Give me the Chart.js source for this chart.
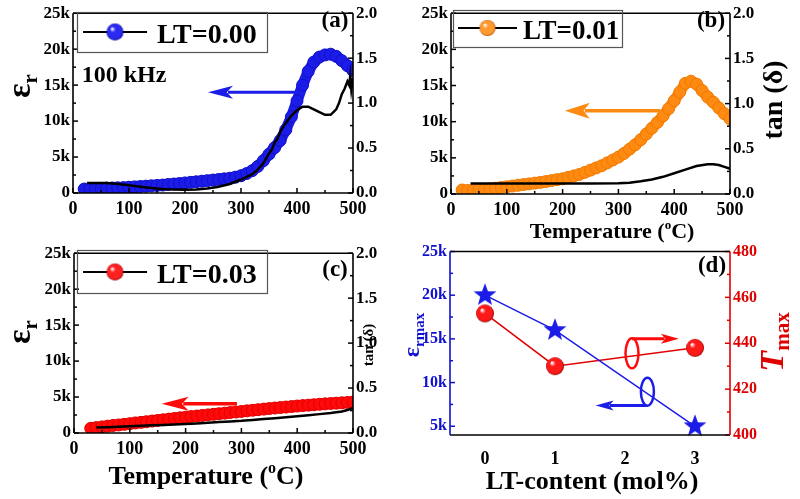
<!DOCTYPE html>
<html><head><meta charset="utf-8">
<script src="https://cdn.jsdelivr.net/npm/chart.js@4.4.1/dist/chart.umd.min.js"></script>
<style>
html,body{margin:0;padding:0;background:#fff;}
#wrap{position:relative;width:800px;height:499px;overflow:hidden;background:#fff;}
canvas{position:absolute;}
</style></head><body>
<div id="wrap">
<canvas id="ca" style="left:0px;top:0px;width:400px;height:230px" width="400" height="230"></canvas>
<canvas id="cb" style="left:400px;top:0px;width:400px;height:250px" width="400" height="250"></canvas>
<canvas id="cc" style="left:0px;top:240px;width:400px;height:259px" width="400" height="259"></canvas>
<canvas id="cd" style="left:400px;top:238px;width:400px;height:261px" width="400" height="261"></canvas>
</div>
<script>
// ---------------- DATA ----------------
const tempA = [20,30,40,50,60,70,80,90,100,110,120,130,140,150,160,170,180,190,200,210,220,230,240,250,260,270,280,290,300,310,320,330,340,350,360,370,380,390,400,410,420,430,440,450,460,470,480,490,500];
const epsA  = [550,600,620,650,680,700,720,750,800,850,900,950,1000,1050,1100,1180,1250,1320,1400,1480,1560,1640,1720,1800,1880,1970,2050,2200,2400,2700,3100,3700,4500,5400,6300,7300,8800,10600,12800,15000,16900,18200,18900,19200,19300,19000,18400,17700,17000];
const tanTempA = [25,40,60,80,100,120,140,160,180,200,220,240,260,280,300,310,320,330,340,350,355,360,365,370,380,390,400,410,420,430,440,450,460,465,470,475,480,485,490,493,495,497,500];
const tanA     = [0.11,0.11,0.11,0.10,0.085,0.07,0.055,0.045,0.04,0.035,0.04,0.05,0.07,0.10,0.15,0.18,0.21,0.26,0.33,0.44,0.48,0.56,0.60,0.68,0.78,0.86,0.92,0.96,0.96,0.93,0.90,0.87,0.87,0.90,0.93,1.00,1.10,1.16,1.24,1.20,1.30,1.15,1.28];

const tempB = [20,30,40,50,60,70,80,90,100,110,120,130,140,150,160,170,180,190,200,210,220,230,240,250,260,270,280,290,300,310,320,330,340,350,360,370,380,390,400,410,420,430,440,450,460,470,480,490,500];
const epsB  = [550,500,500,520,600,700,800,900,1000,1100,1200,1300,1400,1500,1600,1720,1850,1980,2100,2300,2500,2700,3000,3300,3600,3900,4300,4700,5100,5600,6200,6800,7500,8300,9100,9900,10800,11800,12900,14100,15300,15600,15200,14300,13400,12700,11900,11100,10400];
const tanTempB = [35,60,100,150,200,250,300,320,340,360,380,400,420,440,460,470,480,490,500];
const tanB     = [0.115,0.115,0.115,0.115,0.115,0.115,0.12,0.125,0.14,0.16,0.19,0.23,0.27,0.31,0.33,0.33,0.32,0.30,0.28];

const tempC = [30,40,50,60,70,80,90,100,110,120,130,140,150,160,170,180,190,200,210,220,230,240,250,260,270,280,290,300,310,320,330,340,350,360,370,380,390,400,410,420,430,440,450,460,470,480,490,500];
const epsC  = [650,750,850,950,1050,1120,1200,1300,1400,1480,1570,1660,1750,1840,1930,2020,2110,2200,2280,2360,2440,2520,2600,2680,2760,2840,2920,3000,3080,3160,3240,3320,3400,3470,3540,3610,3680,3750,3810,3870,3930,3990,4050,4100,4150,4200,4250,4300];
const tanTempC = [40,60,80,100,120,140,160,180,200,220,240,260,280,300,320,340,360,380,400,420,440,460,480,490,500];
const tanC     = [0.06,0.065,0.07,0.075,0.08,0.085,0.09,0.095,0.10,0.107,0.114,0.121,0.128,0.135,0.145,0.155,0.165,0.175,0.185,0.197,0.21,0.222,0.24,0.255,0.28];

const ltContent = [0, 1, 3];
const epsMax    = [20000, 16000, 5000];
const tMax      = [453, 430, 438];

const tempTicks = [0,100,200,300,400,500];
const epsTicks  = [0,5000,10000,15000,20000,25000];
const tanTicks  = [0,0.5,1.0,1.5,2.0];
const ltTicks   = [0,1,2,3];
const epsMaxTicks = [5000,10000,15000,20000,25000];
const tMaxTicks = [400,420,440,460,480];
const legendLabels = ['LT=0.00','LT=0.01','LT=0.03'];

// ---------------- STYLE ----------------
const FONT = '"Liberation Serif","Times New Roman",serif';
const BLUE = '#1c1ce8', ORANGE = '#ff8a12', RED = '#ff0a0a';

function pts(xs, ys){ return xs.map((x,i)=>({x:x, y:ys[i]})); }
function kfmt(v){ return v===0 ? '0' : (v/1000)+'k'; }

function sphere(color, dark, r){
  const s = Math.ceil(r*2+2); const c = document.createElement('canvas'); c.width=c.height=s;
  const g = c.getContext('2d'); const m = s/2;
  const grd = g.createRadialGradient(m-r*0.35, m-r*0.4, r*0.05, m, m, r);
  grd.addColorStop(0,'#ffffff'); grd.addColorStop(0.3,color); grd.addColorStop(0.85,color); grd.addColorStop(1,dark);
  g.fillStyle=grd; g.beginPath(); g.arc(m,m,r,0,Math.PI*2); g.fill();
  return c;
}
function starImg(color, R, r){
  const s = Math.ceil(R*2+2); const c = document.createElement('canvas'); c.width=c.height=s;
  const g = c.getContext('2d'); const m = s/2;
  g.beginPath();
  for(let i=0;i<10;i++){ const a=-Math.PI/2+i*Math.PI/5; const rr=(i%2===0)?R:r; g.lineTo(m+rr*Math.cos(a), m+rr*Math.sin(a)); }
  g.closePath(); g.fillStyle=color; g.fill(); return c;
}

function setFont(ctx, size, italic){ ctx.font = (italic?'italic ':'')+'bold '+size+'px '+FONT; }

function drawParts(ctx, parts, color){
  let w=0; parts.forEach(p=>{ setFont(ctx,p.size,p.italic); p.w=ctx.measureText(p.t).width; w+=p.w; });
  let x=-w/2; ctx.fillStyle=color; ctx.textBaseline='alphabetic'; ctx.textAlign='left';
  parts.forEach(p=>{ setFont(ctx,p.size,p.italic); ctx.fillText(p.t, x, p.dy||0); x+=p.w; });
}
function textAt(ctx, parts, cx, cy, color, rot){
  ctx.save(); ctx.translate(cx, cy); if(rot) ctx.rotate(rot); drawParts(ctx, parts, color); ctx.restore();
}
function arrow(ctx, x1, x2, y, color, lw, hl, hh){
  ctx.save(); ctx.strokeStyle=color; ctx.fillStyle=color; ctx.lineWidth=lw;
  const dir = x2 > x1 ? 1 : -1;
  ctx.beginPath(); ctx.moveTo(x1,y); ctx.lineTo(x2 - dir*hl*0.8, y); ctx.stroke();
  ctx.beginPath(); ctx.moveTo(x2,y); ctx.lineTo(x2-dir*hl, y-hh); ctx.lineTo(x2-dir*hl*0.75, y); ctx.lineTo(x2-dir*hl, y+hh); ctx.closePath(); ctx.fill();
  ctx.restore();
}

function makeDecor(cfg){
  return {
    id: 'decor_'+cfg.name,
    afterDatasetsDraw(chart){
      const ctx = chart.ctx; const a = chart.chartArea; const ox=cfg.ox, oy=cfg.oy;
      ctx.save();
      const drawTicks = (scale, vals, minor, color) => {
        ctx.strokeStyle=color; ctx.lineWidth=1.5;
        const dr = (v, len) => {
          const p = scale.getPixelForValue(v);
          ctx.beginPath();
          if(scale.id==='x'){ ctx.moveTo(p,a.bottom); ctx.lineTo(p,a.bottom-len); }
          else if(scale.position==='left'){ ctx.moveTo(a.left,p); ctx.lineTo(a.left+len,p); }
          else { ctx.moveTo(a.right,p); ctx.lineTo(a.right-len,p); }
          ctx.stroke();
        };
        vals.forEach(v=>dr(v,5));
        minor.forEach(v=>dr(v,3));
      };
      cfg.ticks.forEach(t=>drawTicks(chart.scales[t.id], t.major, t.minor, t.color));
      ctx.lineWidth=1.6;
      const line=(x1,y1,x2,y2,c)=>{ctx.strokeStyle=c;ctx.beginPath();ctx.moveTo(x1,y1);ctx.lineTo(x2,y2);ctx.stroke();};
      line(a.left,a.top,a.right,a.top,'#000');
      line(a.left,a.bottom,a.right,a.bottom,'#000');
      line(a.left,a.top,a.left,a.bottom,cfg.leftColor||'#000');
      line(a.right,a.top,a.right,a.bottom,cfg.rightColor||'#000');
      if(cfg.legend){
        const L=cfg.legend;
        ctx.strokeStyle='#555'; ctx.lineWidth=1.2; ctx.strokeRect(L.box[0]-ox+0.5, L.box[1]-oy+0.5, L.box[2], L.box[3]);
        ctx.strokeStyle='#000'; ctx.lineWidth=2; ctx.beginPath(); ctx.moveTo(L.line[0]-ox, L.line[2]-oy); ctx.lineTo(L.line[1]-ox, L.line[2]-oy); ctx.stroke();
        const img = sphere(L.color, L.dark, L.r);
        ctx.drawImage(img, (L.line[0]+L.line[1])/2-ox-img.width/2, L.line[2]-oy-img.height/2);
        setFont(ctx, L.size); ctx.fillStyle='#000'; ctx.textAlign='left'; ctx.textBaseline='alphabetic';
        ctx.fillText(L.label, L.text[0]-ox, L.text[1]-oy);
      }
      (cfg.arrows||[]).forEach(ar=>{
        const xs=chart.scales.x, ys=chart.scales[ar.axis];
        arrow(ctx, xs.getPixelForValue(ar.x1), xs.getPixelForValue(ar.x2), ys.getPixelForValue(ar.y), ar.color, ar.lw, ar.hl, ar.hh);
      });
      (cfg.ellipses||[]).forEach(el=>{
        const xs=chart.scales.x, ys=chart.scales[el.axis];
        ctx.strokeStyle=el.color; ctx.lineWidth=2.5; ctx.beginPath();
        ctx.ellipse(xs.getPixelForValue(el.x), ys.getPixelForValue(el.y), el.rx, el.ry, 0, 0, Math.PI*2); ctx.stroke();
      });
      (cfg.texts||[]).forEach(t=>{
        textAt(ctx, t.parts, t.x-ox, t.y-oy, t.color||'#000', t.rot||0);
      });
      ctx.restore();
    }
  };
}

function tempScales(leftW, rightW, bottomH){
  return {
    x: { type:'linear', min:0, max:500, afterBuildTicks:s=>{s.ticks=tempTicks.map(v=>({value:v}));},
         afterFit:s=>{s.height=bottomH;},
         grid:{display:false, drawTicks:false}, border:{display:false},
         ticks:{color:'#000', padding:6, maxRotation:0, font:{family:FONT, weight:'bold', size:18}} },
    y: { type:'linear', position:'left', min:0, max:25000, afterBuildTicks:s=>{s.ticks=epsTicks.map(v=>({value:v}));},
         afterFit:s=>{s.width=leftW;},
         grid:{display:false, drawTicks:false}, border:{display:false},
         ticks:{color:'#000', padding:3, callback:kfmt, font:{family:FONT, weight:'bold', size:17}} },
    y2:{ type:'linear', position:'right', min:0, max:2, afterBuildTicks:s=>{s.ticks=tanTicks.map(v=>({value:v}));},
         afterFit:s=>{s.width=rightW;},
         grid:{display:false, drawTicks:false}, border:{display:false},
         ticks:{color:'#000', padding:3, callback:v=>v.toFixed(1), font:{family:FONT, weight:'bold', size:17}} }
  };
}
const tempTickDefs = [
  {id:'x', major:tempTicks, minor:[50,150,250,350,450], color:'#000'},
  {id:'y', major:epsTicks, minor:[2500,7500,12500,17500,22500], color:'#000'},
  {id:'y2', major:tanTicks, minor:[0.25,0.75,1.25,1.75], color:'#000'}
];

function bandDatasets(temp, eps, tt, tan, color, edge){
  return [
    { data: pts(tt, tan), yAxisID:'y2', showLine:true, borderColor:'#000', borderWidth:2.5, pointRadius:0, order:0, clip:0, tension:0 },
    { data: pts(temp, eps), yAxisID:'y', showLine:true, borderColor:color, borderWidth:11, borderJoinStyle:'round', borderCapStyle:'round',
      pointRadius:6, pointBackgroundColor:color, pointBorderColor:edge, pointBorderWidth:1, order:1, clip:0, tension:0 }
  ];
}

function baseOpts(scales, topPad){
  return { responsive:false, animation:false, devicePixelRatio:1,
    layout:{padding:{top:topPad,left:0,right:0,bottom:0}},
    plugins:{legend:{display:false}, tooltip:{enabled:false}},
    scales: scales };
}

const epsParts = (s)=>[{t:'ε',size:s},{t:'r',size:Math.round(s*0.62),dy:Math.round(s*0.22)}];
const tempTitle = (s)=>[{t:'Temperature (',size:s},{t:'o',size:Math.round(s*0.6),dy:-Math.round(s*0.42)},{t:'C)',size:s}];

// Panel (a)
new Chart(document.getElementById('ca'), {
  type:'scatter',
  data:{datasets: bandDatasets(tempA, epsA, tanTempA, tanA, BLUE, '#1010c8')},
  options: baseOpts(tempScales(73, 47, 37), 10),
  plugins:[makeDecor({name:'a', ox:0, oy:0, ticks:tempTickDefs,
    legend:{box:[77,12,190,40], line:[83,147,32], r:8.5, color:'#2a2af0', dark:'#000080', label:legendLabels[0], size:28, text:[157,43]},
    arrows:[{x1:405, x2:241, y:14000, axis:'y', color:BLUE, lw:3, hl:25, hh:6.5}],
    texts:[
      {parts:[{t:'(a)',size:23}], x:335, y:27},
      {parts:[{t:'100 kHz',size:24}], x:124, y:82},
      {parts:epsParts(34), x:30, y:86, rot:-Math.PI/2}
    ]})]
});

// Panel (b)
new Chart(document.getElementById('cb'), {
  type:'scatter',
  data:{datasets: bandDatasets(tempB, epsB, tanTempB, tanB, ORANGE, '#f07a00')},
  options: baseOpts(tempScales(51, 70, 56), 10),
  plugins:[makeDecor({name:'b', ox:400, oy:0, ticks:tempTickDefs,
    legend:{box:[453,10,169,37], line:[458,517,28], r:8, color:'#ff9a30', dark:'#b05000', label:legendLabels[1], size:27, text:[523,39]},
    arrows:[{x1:375, x2:204, y:11500, axis:'y', color:ORANGE, lw:3.5, hl:25, hh:8}],
    texts:[
      {parts:[{t:'(b)',size:23}], x:711, y:27},
      {parts:[{t:'tan (δ)',size:28}], x:782, y:100, rot:-Math.PI/2},
      {parts:tempTitle(22), x:612, y:238}
    ]})]
});

// Panel (c)
new Chart(document.getElementById('cc'), {
  type:'scatter',
  data:{datasets: bandDatasets(tempC, epsC, tanTempC, tanC, RED, '#e00000')},
  options: baseOpts(tempScales(74, 47, 66), 10),
  plugins:[makeDecor({name:'c', ox:0, oy:240, ticks:tempTickDefs,
    legend:{box:[77,250,190,43], line:[83,147,272], r:8.5, color:'#ff2020', dark:'#900000', label:legendLabels[2], size:28, text:[157,283]},
    arrows:[{x1:292, x2:157, y:4060, axis:'y', color:RED, lw:3.5, hl:27, hh:7}],
    texts:[
      {parts:[{t:'(c)',size:23}], x:335, y:276},
      {parts:epsParts(34), x:30, y:332, rot:-Math.PI/2},
      {parts:[{t:'tan (δ)',size:15}], x:373, y:345, rot:-Math.PI/2},
      {parts:tempTitle(26), x:206, y:484}
    ]})]
});

// Panel (d)
const starBlue = starImg(BLUE, 12, 5);
const sphereRed = sphere('#ff1a1a', '#8a0000', 9);
new Chart(document.getElementById('cd'), {
  type:'scatter',
  data:{datasets:[
    { data: pts(ltContent, epsMax), yAxisID:'y', showLine:true, borderColor:BLUE, borderWidth:1.5, pointStyle:starBlue, pointRadius:12, order:0, clip:false, tension:0 },
    { data: pts(ltContent, tMax), yAxisID:'y2', showLine:true, borderColor:'#e00000', borderWidth:1.5, pointStyle:sphereRed, pointRadius:9, order:1, clip:false, tension:0 }
  ]},
  options: baseOpts({
    x: { type:'linear', min:-0.5, max:3.5, afterBuildTicks:s=>{s.ticks=ltTicks.map(v=>({value:v}));},
         afterFit:s=>{s.height=64;},
         grid:{display:false, drawTicks:false}, border:{display:false},
         ticks:{color:'#000', padding:14, maxRotation:0, font:{family:FONT, weight:'bold', size:18}} },
    y: { type:'linear', position:'left', min:4000, max:25000, afterBuildTicks:s=>{s.ticks=epsMaxTicks.map(v=>({value:v}));},
         afterFit:s=>{s.width=50;},
         grid:{display:false, drawTicks:false}, border:{display:false},
         ticks:{color:'#1010d0', padding:3, callback:kfmt, font:{family:FONT, weight:'bold', size:16}} },
    y2:{ type:'linear', position:'right', min:400, max:480, afterBuildTicks:s=>{s.ticks=tMaxTicks.map(v=>({value:v}));},
         afterFit:s=>{s.width=70;},
         grid:{display:false, drawTicks:false}, border:{display:false},
         ticks:{color:'#e00000', padding:3, font:{family:FONT, weight:'bold', size:16}} }
  }, 10),
  plugins:[makeDecor({name:'d', ox:400, oy:238, leftColor:'#1010d0', rightColor:'#e00000',
    ticks:[
      {id:'x', major:[], minor:[], color:'#000'},
      {id:'y', major:epsMaxTicks, minor:[7500,12500,17500,22500], color:'#1010d0'},
      {id:'y2', major:tMaxTicks, minor:[410,430,450,470], color:'#e00000'}
    ],
    arrows:[
      {x1:2.1, x2:2.77, y:442, axis:'y2', color:RED, lw:3, hl:18, hh:5},
      {x1:2.31, x2:1.58, y:7370, axis:'y', color:BLUE, lw:3, hl:18, hh:5}
    ],
    ellipses:[
      {x:2.1, y:435.6, axis:'y2', rx:6.5, ry:15, color:RED},
      {x:2.32, y:8960, axis:'y', rx:6.5, ry:14, color:BLUE}
    ],
    texts:[
      {parts:[{t:'(d)',size:23}], x:712, y:272},
      {parts:[{t:'LT-content (mol%)',size:26}], x:592, y:489},
      {parts:[{t:'ε',size:24},{t:'rmax',size:15,dy:5}], x:419, y:335, color:'#1010d0', rot:-Math.PI/2},
      {parts:[{t:'T',size:34,italic:true},{t:'max',size:21,dy:6}], x:783, y:342, color:'#e00000', rot:-Math.PI/2}
    ]})]
});
</script>
</body></html>
